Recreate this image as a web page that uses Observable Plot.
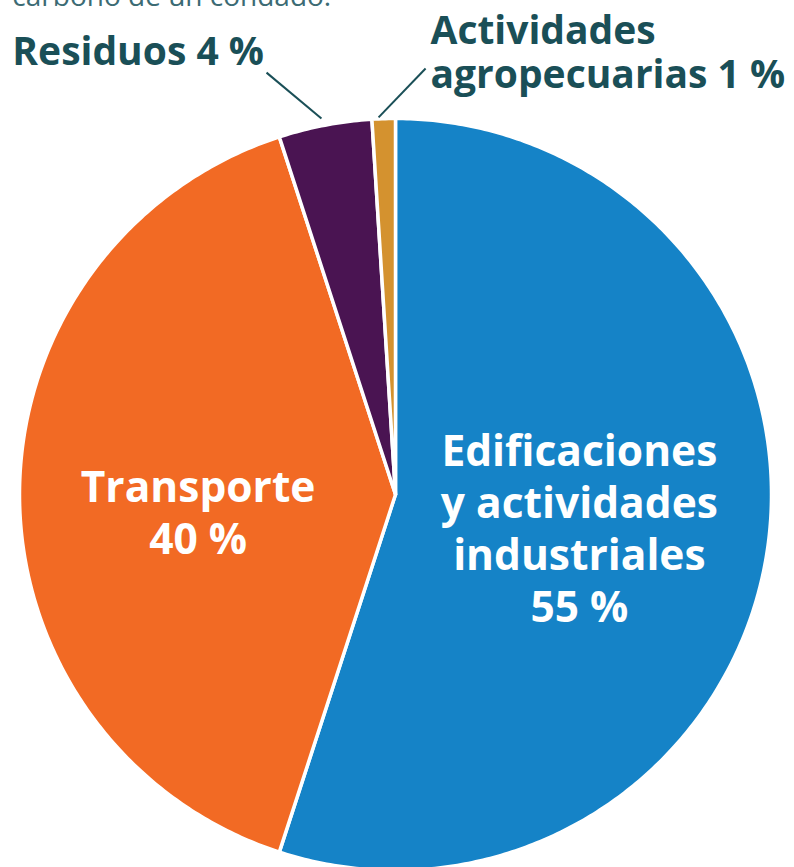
<!DOCTYPE html>
<html>
<head>
<meta charset="utf-8">
<script src="https://cdn.jsdelivr.net/npm/d3@7"></script>
<script src="https://cdn.jsdelivr.net/npm/@observablehq/plot@0.6"></script>
<style>
  html, body { margin: 0; padding: 0; background: #fff; overflow: hidden; }
  #chart svg { display: block; }
</style>
</head>
<body>
<div id="chart"></div>
<script>
// ---- data ----
const categories = ["Edificaciones y actividades industriales", "Transporte", "Residuos", "Actividades agropecuarias"];
const shares = [55, 40, 4, 1];
const labels = ["Edificaciones\ny actividades\nindustriales\n55 %", "Transporte\n40 %", "Residuos 4 %", "Actividades\nagropecuarias 1 %"];
const colors = ["#1583C7", "#F26A24", "#4A1452", "#D4922F"];
const captionTail = "carbono de un condado.";

// ---- build slices (unit circle, clockwise from 12 o'clock) ----
const data = categories.map((c, i) => ({category: c, value: shares[i], label: labels[i], color: colors[i]}));
const arcs = d3.pie().value(d => d.value).sort(null)(data);
const pts = [];
for (const a of arcs) {
  const n = Math.max(4, Math.ceil((a.endAngle - a.startAngle) / 0.01));
  pts.push({category: a.data.category, u: 0, v: 0});
  for (let k = 0; k <= n; k++) {
    const t = a.startAngle + (a.endAngle - a.startAngle) * k / n;
    pts.push({category: a.data.category, u: Math.sin(t), v: Math.cos(t)});
  }
  pts.push({category: a.data.category, u: 0, v: 0});
}

// label anchors in unit-circle coordinates
const inner = [
  {label: labels[0], u: 0.489, v: -0.088},
  {label: labels[1], u: -0.525, v: -0.045}
];
const outer = [
  {label: labels[2], u: -1.019, v: 1.141},
  {label: labels[3], u: 0.093, v: 1.080}
];
const leaders = [
  {x1: -0.343, y1: 1.122, x2: -0.197, y2: 1.0},
  {x1: 0.080, y1: 1.133, x2: -0.045, y2: 1.003}
];

const R = 376, CX = 395, CY = 494, W = 794, H = 867;
const chart = Plot.plot({
  width: W, height: H,
  margin: 0,
  x: {domain: [-CX / R, (W - CX) / R], range: [0, W], axis: null},
  y: {domain: [(CY - H) / R, CY / R], range: [H, 0], axis: null},
  color: {domain: categories, range: colors},
  style: {fontFamily: "'Open Sans', sans-serif", background: "#fff"},
  marks: [
    Plot.line(pts, {x: "u", y: "v", z: "category", fill: "category", stroke: "white", strokeWidth: 3.5, strokeLinejoin: "round", curve: "linear"}),
    Plot.link(leaders, {x1: "x1", y1: "y1", x2: "x2", y2: "y2", stroke: "#1A4F57", strokeWidth: 2}),
    Plot.text(inner, {x: "u", y: "v", text: "label", fill: "white", fontSize: 42.5, fontWeight: 700, lineHeight: 1.22, textAnchor: "middle"}),
    Plot.text(outer, {x: "u", y: "v", text: "label", fill: "#1A4F57", fontSize: 39, fontWeight: 700, lineHeight: 1.13, textAnchor: "start", lineAnchor: "bottom"}),
    Plot.text([captionTail], {x: [-1.019], y: [1.298], text: d => d, fill: "#3C6B74", fontSize: 28, textAnchor: "start", lineAnchor: "bottom"})
  ]
});
document.getElementById("chart").append(chart);
</script>
</body>
</html>
